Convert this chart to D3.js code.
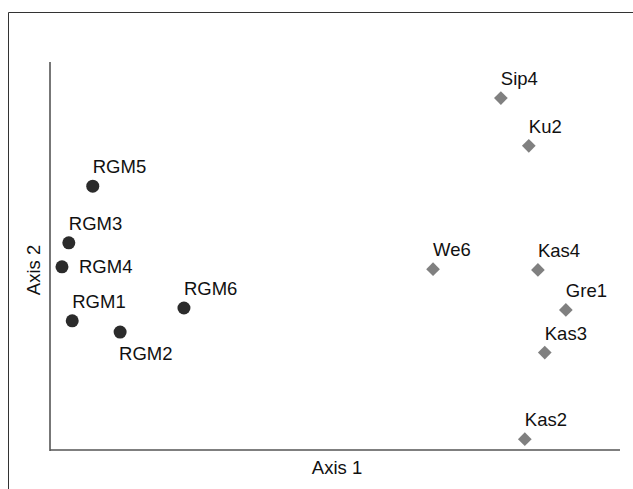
<!DOCTYPE html>
<html><head><meta charset="utf-8">
<script src="https://cdn.jsdelivr.net/npm/d3@7"></script>
<style>body{margin:0;background:#fff}svg{display:block}text{font-family:"Liberation Sans",Arial,sans-serif}</style>
</head><body><svg id="c" width="633" height="489"></svg>
<script>
const groupA = ["RGM5","RGM3","RGM4","RGM1","RGM2","RGM6"];
const groupAx = [0.75,0.33,0.21,0.39,1.23,2.35];
const groupAy = [6.80,5.34,4.72,3.33,3.04,3.66];
const groupAlabelPos = ["above","above","right","above","below","above"];
const groupB = ["Sip4","Ku2","We6","Kas4","Gre1","Kas3","Kas2"];
const groupBx = [7.91,8.40,6.72,8.56,9.05,8.68,8.33];
const groupBy = [9.07,7.84,4.66,4.64,3.61,2.51,0.28];
const groupBlabelPos = ["above","above","above","above","above","above","above"];

const svg = d3.select("#c");
svg.append("path").attr("d","M8.5,489 V12.5 H633").attr("fill","none").attr("stroke","#333").attr("stroke-width",1);

const x = d3.scaleLinear().domain([0,10]).range([50,620]);
const y = d3.scaleLinear().domain([0,10]).range([450,62]);

svg.append("line").attr("x1",x(0)).attr("x2",x(0)).attr("y1",y(10)).attr("y2",y(0)+1).attr("stroke","#555").attr("stroke-width",1.6);
svg.append("line").attr("x1",x(0)).attr("x2",x(10)).attr("y1",y(0)).attr("y2",y(0)).attr("stroke","#555").attr("stroke-width",1.6);

const FS = 18.5;
svg.append("text").attr("x",(x(0)+x(10))/2+2).attr("y",474).attr("text-anchor","middle").attr("font-size",FS).attr("fill","#111").text("Axis 1");
svg.append("text").attr("transform",`translate(40,${(y(0)+y(10))/2+14}) rotate(-90)`).attr("text-anchor","middle").attr("font-size",FS).attr("fill","#111").text("Axis 2");

function offs(p){
  if(p==="above") return [0,-13];
  if(p==="right") return [17,6];
  if(p==="below") return [-1,28];
  return [0,0];
}
const A = groupA.map((n,i)=>({n,x:groupAx[i],y:groupAy[i],p:groupAlabelPos[i]}));
const B = groupB.map((n,i)=>({n,x:groupBx[i],y:groupBy[i],p:groupBlabelPos[i]}));

svg.selectAll("circle.a").data(A).join("circle").attr("class","a")
  .attr("cx",d=>x(d.x)).attr("cy",d=>y(d.y)).attr("r",6.5).attr("fill","#2b2b2b");
const diamond = d3.symbol().type(d3.symbolDiamond2).size(120);
svg.selectAll("path.b").data(B).join("path").attr("class","b")
  .attr("transform",d=>`translate(${x(d.x)},${y(d.y)})`).attr("d",diamond).attr("fill","#808080");

svg.selectAll("text.lab").data(A.concat(B)).join("text").attr("class","lab")
  .attr("x",d=>x(d.x)+offs(d.p)[0]).attr("y",d=>y(d.y)+offs(d.p)[1])
  .attr("font-size",FS).attr("fill","#111").text(d=>d.n);
</script></body></html>
